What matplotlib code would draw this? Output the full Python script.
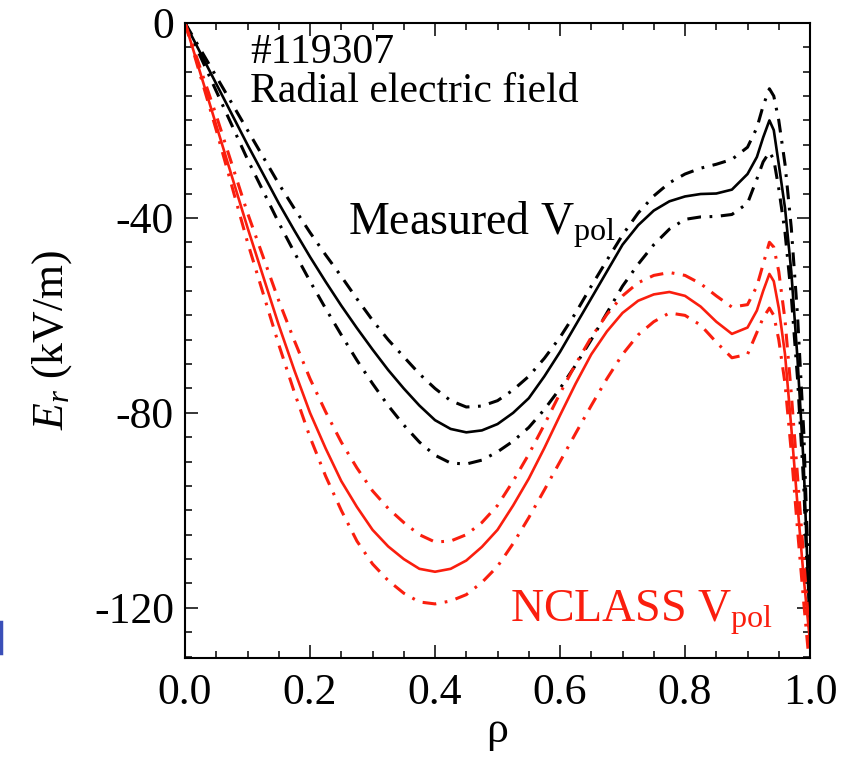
#!/usr/bin/env python3
"""
Er profile: measured Vpol vs NCLASS Vpol (#119307)
"""

import matplotlib
matplotlib.use('Agg')
import matplotlib.pyplot as plt
from matplotlib.lines import Line2D
from matplotlib.ticker import MultipleLocator

# radial grid (rho) shared by all profiles
rho = [0.0, 0.05, 0.10, 0.15, 0.175, 0.20, 0.225, 0.25, 0.275, 0.30, 0.325,
       0.35, 0.375, 0.40, 0.425, 0.45, 0.475, 0.50, 0.525, 0.55, 0.575,
       0.60, 0.625, 0.65, 0.675, 0.70, 0.725, 0.75, 0.775, 0.80, 0.825,
       0.85, 0.875, 0.90, 0.915, 0.925, 0.935, 0.942, 0.95, 0.96, 0.97,
       0.98, 0.99, 1.0]

# measured Vpol: central + upper/lower bounds (kV/m)
er_meas = [0, -12.5, -25, -37, -42.6, -48, -53.1, -58, -62.6, -67, -71.2,
           -75, -78.5, -81.5, -83.3, -84, -83.6, -82.3, -80, -77, -72.5,
           -67.5, -62, -56.5, -51, -45.5, -41.5, -38.5, -36.6, -35.6, -35.1,
           -35, -34.2, -31, -27.5, -23.5, -20, -22, -29, -38, -51,
           -69, -91, -126]
er_meas_hi = [0, -11, -22, -33, -38.1, -43, -47.6, -52, -56.6, -61, -65,
              -68.5, -72, -75, -77.5, -78.8, -78.6, -77.5, -75.3, -72.5, -68.8,
              -64.5, -59.5, -54, -48.7, -43.5, -39, -35.5, -32.8, -31, -29.8,
              -29, -28, -25.5, -21.5, -17, -13.5, -15, -20, -29, -42,
              -60, -84, -123]
er_meas_lo = [0, -14, -28, -41, -47.1, -53, -58.6, -64, -69.2, -74, -78.5,
              -82.5, -86, -88.7, -90.3, -90.5, -89.7, -88, -85.8, -83, -79.3,
              -75, -70.2, -65, -59.5, -54, -49.5, -45.5, -42.3, -40.3, -39.8,
              -39.7, -39.3, -37, -32, -28.5, -26.5, -28, -34, -43, -56,
              -73, -95, -128]

# NCLASS Vpol: central + upper/lower bounds (kV/m)
er_ncl = [0, -21, -42, -62, -71.3, -80, -87.3, -94, -99.3, -104, -107.4,
          -110, -112, -112.6, -112, -110.3, -107.5, -104, -99, -93.5, -87.2,
          -80.5, -74, -68, -63.3, -59.5, -57, -55.7, -55.2, -56, -58.2,
          -61.3, -63.8, -62.5, -59, -55, -51.5, -53, -58.5, -68, -83,
          -99, -114, -127]
er_ncl_hi = [0, -19, -39, -57, -65.2, -73, -79.8, -86, -91.3, -96, -99.6,
             -102.5, -105, -106.5, -106.3, -105, -102.5, -99, -94, -88.5, -82.4,
             -76, -70, -64.5, -59.8, -56, -53.3, -51.8, -51.2, -51.8, -53.5,
             -56, -58.3, -57.8, -54, -49.5, -45, -46, -51, -61, -76,
             -93, -110, -127]
er_ncl_lo = [0, -22, -45, -66, -75.8, -85, -93, -100, -106.3, -111, -114.4,
             -117, -118.8, -119.2, -118.6, -117.3, -114.8, -111.5, -106.8, -101.5, -95.8,
             -90, -84.2, -78.5, -73, -68, -64, -61.3, -59.5, -60, -62,
             -65.5, -68.7, -68, -63.5, -60.5, -58.5, -60, -65, -74, -88,
             -104, -119, -133]

xticks = [0.0, 0.2, 0.4, 0.6, 0.8, 1.0]
yticks = [0, -40, -80, -120]

RED = '#fa1e0e'
DASHDOT = (0, (4.5, 2.8, 0.9, 2.8))

plt.rcParams['font.family'] = ['Liberation Serif', 'DejaVu Serif']
plt.rcParams['mathtext.fontset'] = 'custom'
plt.rcParams['mathtext.rm'] = 'Liberation Serif'
plt.rcParams['mathtext.it'] = 'Liberation Serif:italic'
plt.rcParams['axes.unicode_minus'] = False

fig = plt.figure(figsize=(8.55, 7.67), dpi=100)
ax = fig.add_axes([0.2164, 0.1421, 0.731, 0.828])

ax.plot(rho, er_meas, color='black', lw=1.9)
ax.plot(rho, er_meas_hi, color='black', lw=2.2, linestyle=DASHDOT)
ax.plot(rho, er_meas_lo, color='black', lw=2.2, linestyle=DASHDOT)

ax.plot(rho, er_ncl, color=RED, lw=1.9)
ax.plot(rho, er_ncl_hi, color=RED, lw=2.2, linestyle=DASHDOT)
ax.plot(rho, er_ncl_lo, color=RED, lw=2.2, linestyle=DASHDOT)

ax.set_xlim(0.0, 1.0)
ax.set_ylim(-130.3, 0)
ax.set_xticks(xticks)
ax.set_xticklabels([f'{t:.1f}' for t in xticks])
ax.set_yticks(yticks)
ax.set_yticklabels([str(t) for t in yticks])
ax.xaxis.set_minor_locator(MultipleLocator(0.05))
ax.yaxis.set_minor_locator(MultipleLocator(5))

ax.tick_params(which='both', direction='in', top=True, right=True,
               width=1.1, labelsize=31.5)
ax.tick_params(which='major', length=9.5)
ax.tick_params(which='minor', length=5)
ax.tick_params(axis='x', pad=11)
ax.tick_params(axis='y', pad=8)
for sp in ax.spines.values():
    sp.set_linewidth(1.5)

ax.set_xlabel('ρ', fontsize=31.5, labelpad=-2)
ax.set_ylabel(r'$E_r$ (kV/m)', fontsize=31.5, labelpad=14)

# labels in the plot
ax.text(0.104, -8.2, '#119307', fontsize=30)
ax.text(0.104, -16.2, 'Radial electric field', fontsize=30)
ax.text(0.261, -43.5, r'Measured V$_{\mathrm{pol}}$', fontsize=33)
ax.text(0.52, -122.9, r'NCLASS V$_{\mathrm{pol}}$', fontsize=33, color=RED)

# small blue mark at the left edge (from the slide)
fig.add_artist(Line2D([0.0015, 0.0015], [1 - 622 / 767, 1 - 653 / 767],
                      transform=fig.transFigure, color='#3a4fb8', lw=2.5))

plt.savefig('out.png', dpi=100)
plt.close()
